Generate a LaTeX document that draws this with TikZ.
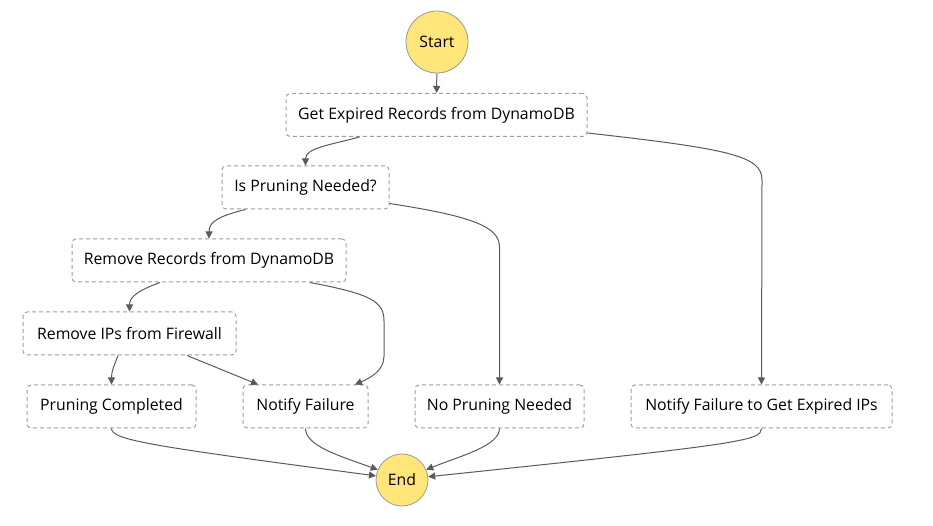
\documentclass[tikz,border=0pt]{standalone}
\usepackage{fontspec}
\setmainfont{Open Sans}
\usetikzlibrary{arrows.meta}
\definecolor{stategold}{HTML}{FFE57A}
\definecolor{edgegray}{HTML}{5A5A5A}
\definecolor{boxgray}{HTML}{9E9E9E}
\tikzset{
  term/.style={circle, draw=gray!80, line width=0.8pt, fill=stategold, minimum size=#1, inner sep=0pt, font=\fontsize{15.8}{18}\selectfont},
  task/.style={draw=boxgray, line width=1pt, dash pattern=on 4pt off 3pt, rounded corners=4pt, minimum height=43pt, inner sep=0pt, font=\fontsize{15.8}{18}\selectfont},
  flow/.style={draw=edgegray, line width=1pt, -{Triangle[length=7pt,width=7pt]}}
}
\begin{document}
\begin{tikzpicture}[x=1pt,y=1pt]
  \useasboundingbox (0,0) rectangle (933,526);
  \node[term=62pt] (start) at (437,484) {Start};
  \node[task, minimum width=301pt] (get) at (436.5,411) {Get Expired Records from DynamoDB};
  \node[task, minimum width=167pt] (check) at (305.5,338.5) {Is Pruning Needed?};
  \node[task, minimum width=274pt] (remrec) at (209,265.5) {Remove Records from DynamoDB};
  \node[task, minimum width=213pt] (remip) at (129.5,192.5) {Remove IPs from Firewall};
  \node[task, minimum width=169pt] (done) at (111.5,119.5) {Pruning Completed};
  \node[task, minimum width=125pt] (notify) at (305.5,119.5) {Notify Failure};
  \node[task, minimum width=169pt] (noprune) at (499.5,119.5) {No Pruning Needed};
  \node[task, minimum width=261pt] (notifyget) at (761.5,119.5) {Notify Failure to Get Expired IPs};
  \node[term=52pt] (end) at (402,46) {End};
  \begin{scope}[flow]
    \draw (start) -- (get);
    \draw ([xshift=-77pt]get.south) .. controls (330,381) and (305.5,378) .. (check.north);
    \draw ([yshift=4pt]get.south east) .. controls (730,377) and (762,370) .. (762,346) -- (notifyget.north);
    \draw ([xshift=-60pt]check.south) .. controls (220,310) and (209,305) .. (remrec.north);
    \draw ([yshift=6pt]check.south east) .. controls (470,310) and (499.5,300) .. (499.5,279) -- (noprune.north);
    \draw ([xshift=-49pt]remrec.south) .. controls (140,236) and (129.5,230) .. (remip.north);
    \draw ([xshift=101pt]remrec.south) .. controls (370,232) and (384,225) .. (384,205) -- (384,170) .. controls (384,155) and (370,148) .. ([xshift=49.5pt]notify.north);
    \draw ([xshift=-11.5pt]remip.south) .. controls (114,160) and (111.5,155) .. (done.north);
    \draw ([xshift=57.5pt]remip.south) -- ([xshift=-47.5pt]notify.north);
    \draw (done.south) .. controls (111.5,86) and (150,80) .. (end.171);
    \draw (notify.south) .. controls (305.5,80) and (340,70) .. (end.157);
    \draw (noprune.south) .. controls (499.5,80) and (460,70) .. (end.23);
    \draw (notifyget.south) .. controls (761.5,85) and (740,82) .. (end.7);
  \end{scope}
\end{tikzpicture}
\end{document}
